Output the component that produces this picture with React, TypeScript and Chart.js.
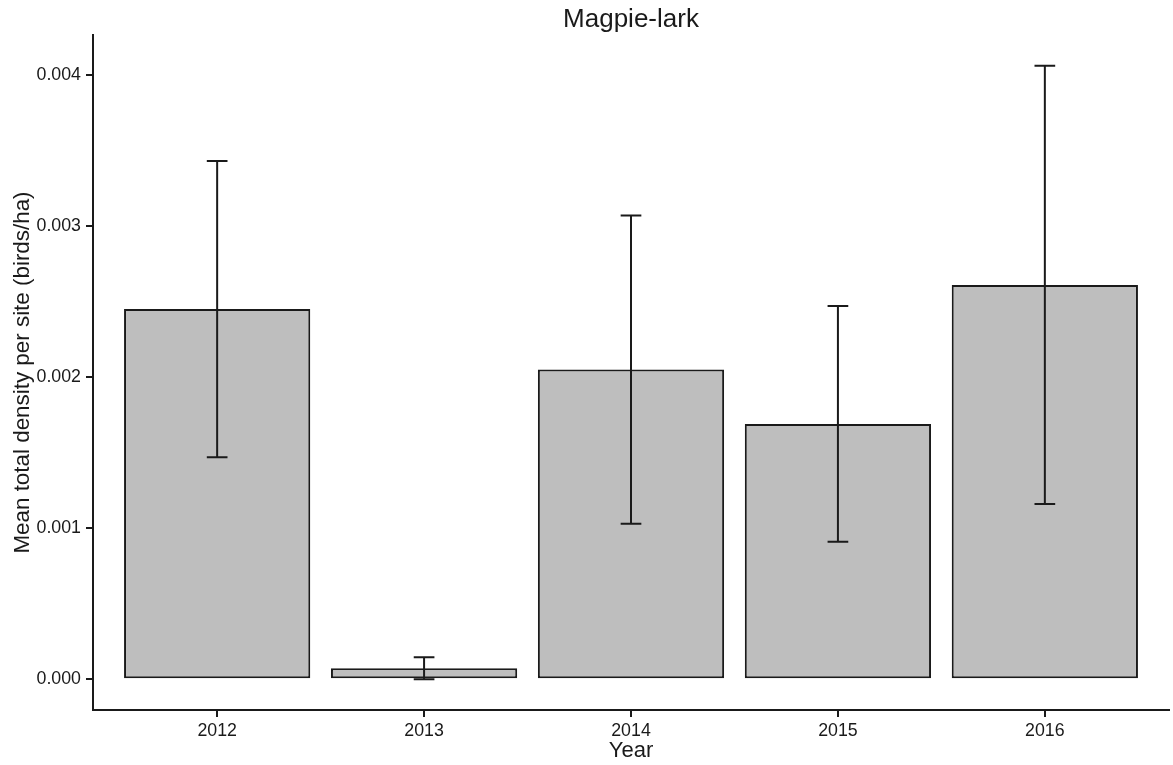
import React, { useEffect, useRef } from "react";
import { Chart, registerables } from "chart.js";

Chart.register(...registerables);

const years = ["2012", "2013", "2014", "2015", "2016"];
const means = [0.00245, 0.000073, 0.00205, 0.00169, 0.00261];
const errors = [0.00098, 0.000073, 0.00102, 0.00078, 0.00145];
const yTicks = [0, 0.001, 0.002, 0.003, 0.004];
const titleText = "Magpie-lark";
const xTitle = "Year";
const yTitle = "Mean total density per site (birds/ha)";

const FONT = "'Liberation Sans', Arial, Helvetica, sans-serif";
const INK = "#1a1a1a";

const errorBarPlugin = {
  id: "errorBars",
  afterDatasetsDraw(chart: any) {
    const { ctx, scales } = chart;
    const xs = scales.x;
    const ys = scales.y;
    ctx.save();
    ctx.strokeStyle = INK;
    ctx.lineWidth = 2;
    means.forEach((m, i) => {
      const x = xs.getPixelForValue(i + 1);
      const half = (xs.getPixelForValue(i + 1.05) - xs.getPixelForValue(i + 0.95)) / 2;
      const yt = ys.getPixelForValue(m + errors[i]);
      const yb = ys.getPixelForValue(m - errors[i]);
      ctx.beginPath();
      ctx.moveTo(x, yt);
      ctx.lineTo(x, yb);
      ctx.moveTo(x - half, yt);
      ctx.lineTo(x + half, yt);
      ctx.moveTo(x - half, yb);
      ctx.lineTo(x + half, yb);
      ctx.stroke();
    });
    ctx.restore();
  },
};

const textPlugin = {
  id: "texts",
  afterDraw(chart: any) {
    const { ctx, chartArea } = chart;
    const cx = (chartArea.left + chartArea.right) / 2;
    const cy = (chartArea.top + chartArea.bottom) / 2;
    ctx.save();
    ctx.fillStyle = INK;
    ctx.textAlign = "center";
    ctx.textBaseline = "middle";
    ctx.font = `26px ${FONT}`;
    ctx.fillText(titleText, cx, 20);
    ctx.font = `22px ${FONT}`;
    ctx.fillText(xTitle, cx, 751);
    ctx.font = `22.4px ${FONT}`;
    ctx.translate(23, cy);
    ctx.rotate(-Math.PI / 2);
    ctx.fillText(yTitle, 0, 0);
    ctx.restore();
  },
};

export default function App() {
  const ref = useRef<HTMLCanvasElement>(null);
  useEffect(() => {
    if (!ref.current) return;
    const chart = new Chart(ref.current, {
      type: "bar",
      data: {
        datasets: [
          {
            data: means.map((m, i) => ({ x: i + 1, y: m })),
            backgroundColor: "#bebebe",
            borderColor: INK,
            borderWidth: 2,
            borderSkipped: false,
            barPercentage: 0.9,
            categoryPercentage: 1,
          },
        ],
      },
      options: {
        responsive: false,
        animation: false,
        layout: { padding: { top: 35, right: 4, left: 0, bottom: 0 } },
        plugins: { legend: { display: false }, tooltip: { enabled: false }, title: { display: false } },
        scales: {
          x: {
            type: "linear",
            min: 0.4,
            max: 5.6,
            offset: false,
            afterBuildTicks: (s: any) => {
              s.ticks = years.map((_, i) => ({ value: i + 1 }));
            },
            afterFit: (s: any) => {
              s.height = 55;
            },
            ticks: {
              callback: (v: any) => years[Math.round(Number(v)) - 1] ?? "",
              color: INK,
              font: { family: FONT, size: 17.8 },
              padding: 3,
              maxRotation: 0,
              autoSkip: false,
            },
            grid: { offset: false, drawOnChartArea: false, drawTicks: true, tickLength: 7, color: INK, lineWidth: 2 },
            border: { display: true, color: INK, width: 2 },
          },
          y: {
            type: "linear",
            min: -0.000203,
            max: 0.004264,
            afterBuildTicks: (s: any) => {
              s.ticks = yTicks.map((v) => ({ value: v }));
            },
            afterFit: (s: any) => {
              s.width = 93;
            },
            ticks: {
              callback: (v: any) => Number(v).toFixed(3),
              color: INK,
              font: { family: FONT, size: 17.8 },
              padding: 5,
            },
            grid: { drawOnChartArea: false, drawTicks: true, tickLength: 7, color: INK, lineWidth: 2 },
            border: { display: true, color: INK, width: 2 },
          },
        },
      },
      plugins: [errorBarPlugin, textPlugin],
    } as any);
    return () => chart.destroy();
  }, []);
  return (
    <div style={{ position: "fixed", left: 0, top: 0, width: 1173, height: 765, background: "#fff" }}>
      <canvas ref={ref} width={1173} height={765} />
    </div>
  );
}
